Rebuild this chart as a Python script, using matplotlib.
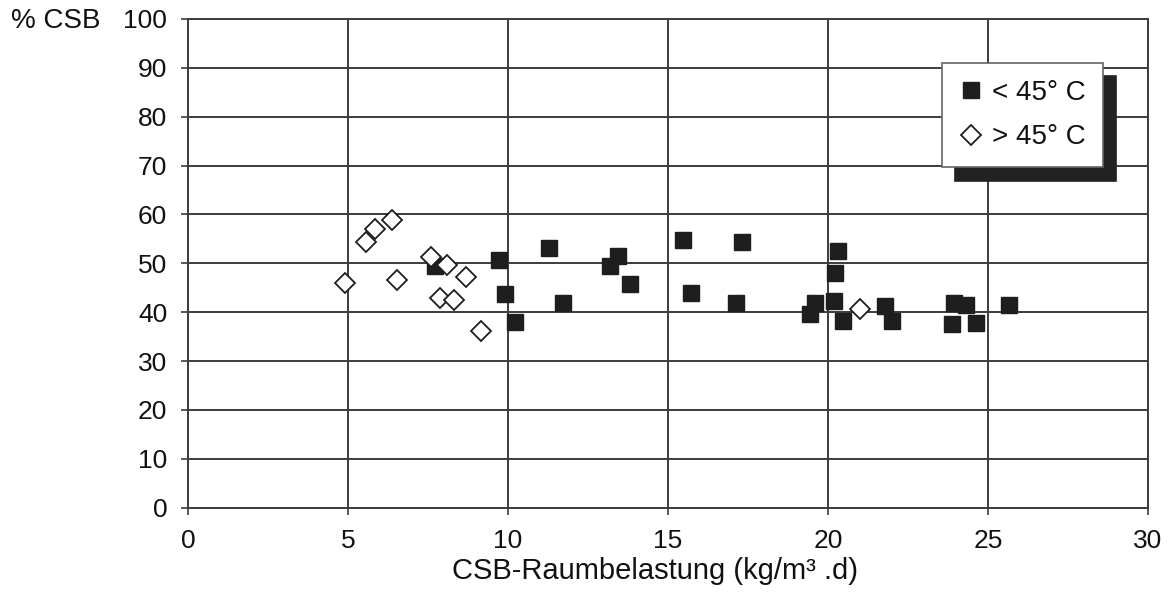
import matplotlib
matplotlib.use("Agg")
import matplotlib.pyplot as plt

plt.rcParams['font.family'] = ['Liberation Sans', 'DejaVu Sans']

# CSB-Raumbelastung (kg/m3.d) and CSB elimination (%) below 45 °C
low_x = [7.73, 9.73, 9.90, 10.21, 11.28, 11.72, 13.20, 13.45, 13.80, 15.46,
         15.72, 17.13, 17.30, 19.43, 19.58, 20.18, 20.23, 20.32, 20.47, 21.78,
         21.99, 23.88, 23.95, 24.30, 24.63, 25.67]
low_y = [49.5, 50.7, 43.7, 37.9, 53.1, 41.8, 49.5, 51.5, 45.7, 54.8,
         43.9, 41.8, 54.3, 39.6, 41.9, 42.3, 48.0, 52.5, 38.2, 41.3,
         38.2, 37.6, 41.8, 41.5, 37.7, 41.5]

# above 45 °C
high_x = [4.92, 5.57, 5.84, 6.36, 6.54, 7.58, 7.86, 8.10, 8.31, 8.69, 9.17, 21.00]
high_y = [46.0, 54.4, 57.0, 58.9, 46.6, 51.4, 43.0, 49.7, 42.6, 47.3, 36.2, 40.7]

x_ticks = [0, 5, 10, 15, 20, 25, 30]
y_ticks = [0, 10, 20, 30, 40, 50, 60, 70, 80, 90, 100]

grid_col = '#3c3c3c'
text_col = '#111111'

fig = plt.figure(figsize=(11.76, 5.95), dpi=100)
ax = fig.add_axes([0.1599, 0.1467, 0.8163, 0.8214])

ax.plot(low_x, low_y, linestyle='none', marker='s', markersize=12,
        markerfacecolor='#1e1e1e', markeredgecolor='#1e1e1e',
        label='< 45° C', zorder=3)
ax.plot(high_x, high_y, linestyle='none', marker='D', markersize=10.5,
        markerfacecolor='white', markeredgecolor='#1e1e1e', markeredgewidth=1.3,
        label='> 45° C', zorder=4)

ax.set_xlim(0, 30)
ax.set_ylim(0, 100)
ax.set_xticks(x_ticks)
ax.set_yticks(y_ticks)
ax.grid(True, color=grid_col, linewidth=1.4)
ax.set_axisbelow(True)
for sp in ax.spines.values():
    sp.set_color(grid_col)
    sp.set_linewidth(1.4)

ax.tick_params(axis='both', direction='out', length=5, width=1.2,
               color=grid_col, labelsize=19, labelcolor=text_col)
ax.tick_params(axis='y', pad=10)
ax.tick_params(axis='x', pad=10)

ax.set_xlabel('CSB-Raumbelastung (kg/m³ .d)', fontsize=21, color=text_col)
ax.xaxis.set_label_coords(0.486, -0.1)

fig.text(0.009, 1 - 21 / 595, '% CSB', fontsize=20, color=text_col,
         ha='left', va='center')

leg = ax.legend(loc='upper left', bbox_to_anchor=(0.785, 0.91),
                borderaxespad=0, fontsize=20, frameon=True, fancybox=False,
                framealpha=1, edgecolor='#666666', labelspacing=0.65,
                handlelength=0.9, handletextpad=0.3, borderpad=0.62,
                shadow={'ox': 9.5, 'oy': -9.5, 'color': '#222222', 'alpha': 1})
leg.get_frame().set_linewidth(1.2)
for txt in leg.get_texts():
    txt.set_color(text_col)

fig.savefig('out.png', dpi=100, facecolor='white')
